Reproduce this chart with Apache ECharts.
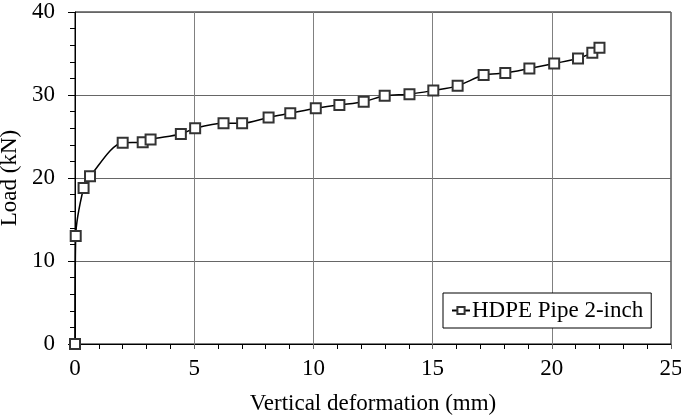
<!DOCTYPE html>
<html>
<head>
<meta charset="utf-8">
<script src="https://cdn.jsdelivr.net/npm/echarts@6/dist/echarts.min.js"></script>
<style>html,body{margin:0;padding:0;background:#fff}#c{width:681px;height:418px}</style>
</head>
<body>
<div id="c"></div>
<script>
var deformation = [0, 0.03, 0.36, 0.63, 2.0, 2.84, 3.17, 4.44, 5.04, 6.23, 7.01, 8.12, 9.03, 10.1, 11.09, 12.11, 12.99, 14.03, 15.03, 16.05, 17.14, 18.05, 19.06, 20.1, 21.1, 21.7, 22.0];
var load = [0, 13.0, 18.8, 20.2, 24.25, 24.3, 24.65, 25.3, 26.0, 26.6, 26.6, 27.3, 27.8, 28.4, 28.8, 29.2, 29.9, 30.1, 30.55, 31.1, 32.4, 32.65, 33.2, 33.8, 34.4, 35.1, 35.7];
var seriesName = 'HDPE Pipe 2-inch';
var xTitle = 'Vertical deformation (mm)';
var yTitle = 'Load (kN)';

var font = 'Liberation Serif, Times New Roman, serif';
var fs = 23;
var chart = echarts.init(document.getElementById('c'));
var pts = deformation.map(function (d, i) { return [d, load[i]]; });
chart.setOption({
  animation: false,
  grid: { left: 75, right: 10, top: 12, bottom: 74, show: true, borderColor: '#000', borderWidth: 1, containLabel: false, outerBoundsMode: 'none' },
  legend: {
    left: 443, top: 293,
    data: [seriesName],
    backgroundColor: '#fff', borderColor: '#000', borderWidth: 1,
    padding: [6, 8, 6, 8],
    itemWidth: 18, itemHeight: 9, itemGap: 0,
    textStyle: { fontFamily: font, fontSize: fs, color: '#000', padding: [0, 0, 0, -3] }
  },
  xAxis: {
    type: 'value', min: 0, max: 25, interval: 5,
    name: xTitle, nameLocation: 'middle', nameGap: 48,
    nameTextStyle: { fontFamily: font, fontSize: fs, color: '#000' },
    axisLine: { lineStyle: { color: '#000', width: 1 } },
    axisTick: { show: true, length: 5, lineStyle: { color: '#666' } },
    minorTick: { show: true, splitNumber: 5, length: 5, lineStyle: { color: '#000' } },
    axisLabel: { fontFamily: font, fontSize: fs, color: '#000', margin: 13, hideOverlap: false },
    splitLine: { show: true, lineStyle: { color: '#808080', width: 1 } }
  },
  yAxis: {
    type: 'value', min: 0, max: 40, interval: 10,
    name: yTitle, nameLocation: 'middle', nameGap: 46,
    nameTextStyle: { fontFamily: font, fontSize: fs, color: '#000' },
    axisLine: { lineStyle: { color: '#000', width: 1 } },
    axisTick: { show: true, length: 7, lineStyle: { color: '#000' } },
    minorTick: { show: true, splitNumber: 5, length: 5, lineStyle: { color: '#000' } },
    axisLabel: { fontFamily: font, fontSize: fs, color: '#000', margin: 20 },
    splitLine: { show: true, lineStyle: { color: '#666', width: 1 } }
  },
  series: [{
    name: seriesName,
    type: 'line',
    data: pts,
    smooth: 0.3,
    symbol: 'rect', symbolSize: 10,
    lineStyle: { color: '#000', width: 1.5 },
    itemStyle: { color: '#fff', borderColor: '#333', borderWidth: 2 },
    z: 5
  }]
});
</script>
</body>
</html>
